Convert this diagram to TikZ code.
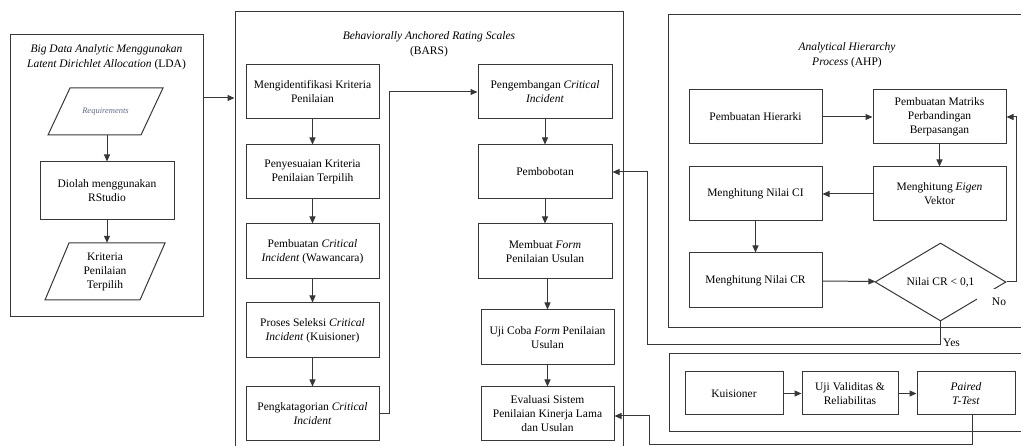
\documentclass[tikz,border=0pt]{standalone}
\usepackage{fontspec}
\setmainfont{Liberation Serif}
\usetikzlibrary{arrows.meta,shapes.geometric}
\definecolor{linec}{RGB}{55,55,55}
\definecolor{reqc}{RGB}{95,105,135}
\begin{document}
\begin{tikzpicture}[x=1pt,y=-1pt,
  font=\fontsize{11.5}{14}\selectfont,
  panel/.style={draw=linec, line width=1pt, inner sep=0pt},
  box/.style={draw=linec, line width=1pt, fill=white, align=center, minimum width=133, minimum height=54, inner sep=1pt},
  sbox/.style={box, minimum width=97, minimum height=43},
  ptext/.style={align=center, inner sep=1pt, minimum width=70},
  ttl/.style={align=center, inner sep=0pt, font=\fontsize{11.5}{15}\selectfont},
  arr/.style={draw=linec, line width=1pt, -{Triangle[length=7pt,width=6pt]}},
  ln/.style={draw=linec, line width=1pt}]
\path[use as bounding box, clip] (0,0) rectangle (1021,446);

% panels
\node[panel, minimum width=193, minimum height=282] (lda) at (106.5,176) {};
\node[panel, minimum width=388, minimum height=458] (bars) at (429,241) {};
\node[panel, minimum width=372, minimum height=313] (ahp) at (854,171.5) {};
\node[panel, minimum width=371, minimum height=78] (uji) at (854.5,393) {};

% titles
\node[ttl] (ldat) at (106.5,57.5) {\textit{Big Data Analytic Menggunakan}\\\textit{Latent Dirichlet Allocation} (LDA)};
\node[ttl] (barst) at (429,44.5) {\textit{Behaviorally Anchored Rating Scales}\\(BARS)};
\node[ttl] (ahpt) at (847,55) {\textit{Analytical Hierarchy}\\\textit{Process} (AHP)};

% LDA column
\node[ptext, minimum height=47, font=\fontsize{8.5}{10}\selectfont\itshape, text=reqc] (req) at (105.5,111.5) {Requirements};
\draw[ln] ([shift={(-35.5,-23.5)}]req.center) -- ([shift={(57.5,-23.5)}]req.center) -- ([shift={(35.5,23.5)}]req.center) -- ([shift={(-57.5,23.5)}]req.center) -- cycle;
\node[box, minimum width=134, minimum height=58] (diolah) at (107,191) {Diolah menggunakan\\RStudio};
\node[ptext, minimum height=57] (krit) at (105,271.5) {Kriteria\\Penilaian\\Terpilih};
\draw[ln] ([shift={(-36,-28.5)}]krit.center) -- ([shift={(60,-28.5)}]krit.center) -- ([shift={(35,28.5)}]krit.center) -- ([shift={(-60,28.5)}]krit.center) -- cycle;

% BARS left column
\node[box] (l1) at (312.5,92) {Mengidentifikasi Kriteria\\Penilaian};
\node[box] (l2) at (312.5,172) {Penyesuaian Kriteria\\Penilaian Terpilih};
\node[box, minimum height=55] (l3) at (312.5,251.5) {Pembuatan \textit{Critical}\\\textit{Incident} (Wawancara)};
\node[box, minimum height=55] (l4) at (312.5,330.5) {Proses Seleksi \textit{Critical}\\\textit{Incident} (Kuisioner)};
\node[box] (l5) at (312.5,414) {Pengkatagorian \textit{Critical}\\\textit{Incident}};

% BARS right column
\node[box, minimum width=134] (r1) at (545,92) {Pengembangan \textit{Critical}\\\textit{Incident}};
\node[box, minimum width=134] (r2) at (545,172) {Pembobotan};
\node[box, minimum width=134, minimum height=55] (r3) at (545,251.5) {Membuat \textit{Form}\\Penilaian Usulan};
\node[box, minimum height=55] (r4) at (547.5,337.5) {Uji Coba \textit{Form} Penilaian\\Usulan};
\node[box] (r5) at (547.5,414) {Evaluasi Sistem\\Penilaian Kinerja Lama\\dan Usulan};

% AHP
\node[box] (a1) at (755.5,117) {Pembuatan Hierarki};
\node[box] (a2) at (939.5,117) {Pembuatan Matriks\\Perbandingan\\Berpasangan};
\node[box] (a3) at (939.5,194) {Menghitung \textit{Eigen}\\Vektor};
\node[box] (a4) at (755.5,194) {Menghitung Nilai CI};
\node[box, minimum height=55] (a5) at (755.5,280.5) {Menghitung Nilai CR};
\node[draw=linec, line width=1pt, fill=white, shape=diamond, aspect=1.68, inner sep=0pt, minimum width=131, minimum height=78] (dec) at (940.5,282) {Nilai CR < 0,1};

% bottom panel
\node[sbox, minimum width=98] (b1) at (734,393.5) {Kuisioner};
\node[sbox, minimum width=96] (b2) at (850,393.5) {Uji Validitas \&\\Reliabilitas};
\node[sbox, minimum width=98] (b3) at (966,393.5) {\textit{Paired}\\\textit{T-Test}};

% connectors LDA
\draw[arr] (diolah.north |- req.south) -- (diolah.north);
\draw[arr] (diolah.south) -- (diolah.south |- krit.north);
\draw[arr] (lda.east |- 0,98) -- (bars.west |- 0,98);

% BARS connectors
\draw[arr] (l1) -- (l2);
\draw[arr] (l2) -- (l3);
\draw[arr] (l3) -- (l4);
\draw[arr] (l4) -- (l5);
\draw[arr] (l5.east) -- ++(10,0) |- (r1.west);
\draw[arr] (r1) -- (r2);
\draw[arr] (r2) -- (r3);
\draw[arr] (r4.north |- r3.south) -- (r4.north);
\draw[arr] (r4) -- (r5);

% AHP connectors
\draw[arr] (a1) -- (a2);
\draw[arr] (a2) -- (a3);
\draw[arr] (a3) -- (a4);
\draw[arr] (a4) -- (a5);
\draw[arr] (a5) -- (dec);
\draw[arr] (dec.east) -- ++(10,0) |- (a2.east);
\draw[arr] (dec.south) -- ++(0,23) -| ([xshift=35]r2.east) -- (r2.east);

% bottom connectors
\draw[arr] (b1) -- (b2);
\draw[arr] (b2) -- (b3);
\draw[arr] ([xshift=6]b3.south) -- ++(0,29) -| ([xshift=35]r5.east |- 0,416) -- (r5.east |- 0,416);

% labels
\node[fill=white, inner sep=0pt, minimum width=38, minimum height=26] (nolab) at (996,302) {\hspace{6pt}No};
\node[anchor=west, inner sep=0pt] (yeslab) at (943,343) {Yes};
\end{tikzpicture}
\end{document}
